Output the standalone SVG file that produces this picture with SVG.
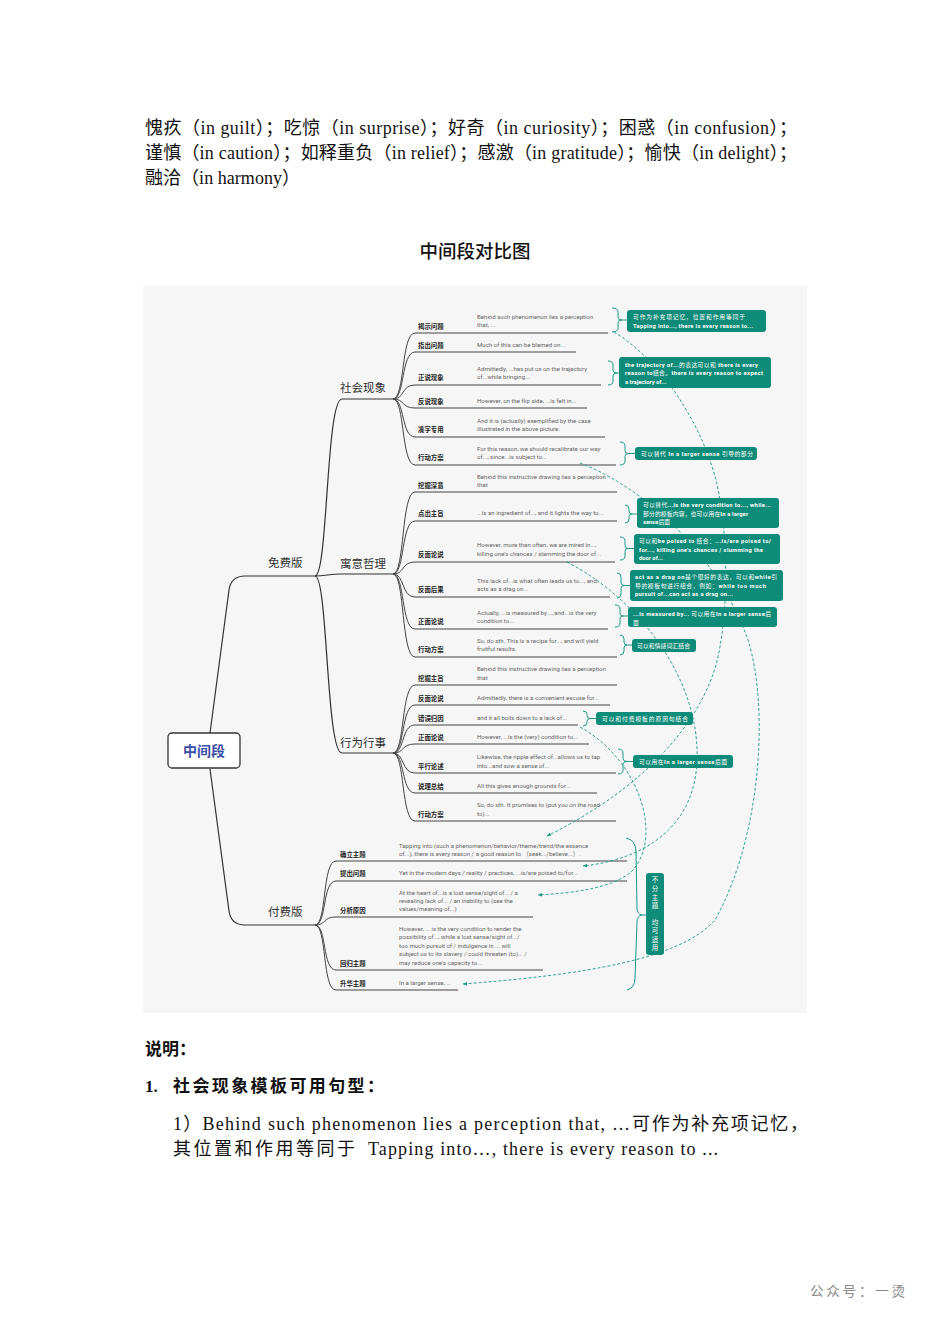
<svg xmlns="http://www.w3.org/2000/svg" width="950" height="1344" viewBox="0 0 950 1344">
<style>
.body{font-family:"Liberation Serif","Noto Sans CJK SC",serif;font-size:18px;fill:#111}
.bold{font-family:"Liberation Serif","Noto Sans CJK SC",serif;font-size:17px;font-weight:bold;fill:#111}
.title{font-family:"Noto Sans CJK SC",sans-serif;font-size:18.5px;font-weight:500;fill:#111}
.lab{font-family:"Noto Sans CJK SC",sans-serif;font-size:6.4px;font-weight:bold;fill:#222}
.txt{font-family:Roboto,"Noto Sans CJK SC",sans-serif;font-size:6.1px;fill:#666}
.br{font-family:"Noto Sans CJK SC",sans-serif;font-size:11.5px;fill:#333}
.bx{font-family:Roboto,"Noto Sans CJK SC",sans-serif;font-size:5.8px;font-weight:bold;fill:#fff}
.n{font-weight:normal}
.vt{font-family:"Noto Sans CJK SC",sans-serif;font-size:6.5px;fill:#fff;text-anchor:middle}
.tree{fill:none;stroke:#333;stroke-width:1.2}
.sub{fill:none;stroke:#444;stroke-width:1}
.box{fill:#0f8b79}
.brace{fill:none;stroke:#1a9a87;stroke-width:1}
.dash{fill:none;stroke:#1a9a87;stroke-width:0.9;stroke-dasharray:3 2}
</style>
<defs>
<marker id="ah" viewBox="0 0 10 10" refX="9" refY="5" markerWidth="5" markerHeight="5" orient="auto"><path d="M0,1 L10,5 L0,9 z" fill="#1a9a87"/></marker>
</defs>
<rect width="950" height="1344" fill="#fff"/>

<g id="intro">
<text class="body" x="145" y="134" textLength="652" lengthAdjust="spacing">愧疚（in guilt）；吃惊（in surprise）；好奇（in curiosity）；困惑（in confusion）；</text>
<text class="body" x="145" y="159" textLength="652" lengthAdjust="spacing">谨慎（in caution）；如释重负（in relief）；感激（in gratitude）；愉快（in delight）；</text>
<text class="body" x="145" y="184" textLength="155" lengthAdjust="spacing">融洽（in harmony）</text>
<text class="title" x="475" y="258" text-anchor="middle">中间段对比图</text>
</g>

<rect x="143" y="286" width="664" height="727" fill="#f6f6f6"/>

<g id="connectors">
<path class="tree" d="M210,733 L229,590 Q231,576 245,576 L315,576"/>
<path class="tree" d="M210,769 L229,911 Q231,925 245,925 L315,925"/>
<path class="tree" d="M315,576 C328,576 326,399 342,399 L393,399"/>
<path class="tree" d="M315,576 C325,576 330,574 340,574 L393,574"/>
<path class="tree" d="M315,576 C328,576 326,753 342,753 L393,753"/>
<g class="sub">
<path d="M393,399 C405,399 401,333 415,333 L608,333"/>
<path d="M393,399 C405,399 401,352 415,352 L576,352"/>
<path d="M393,399 C405,399 401,385 415,385 L601,385"/>
<path d="M393,399 C405,399 401,408 415,408 L587,408"/>
<path d="M393,399 C405,399 401,437 415,437 L605,437"/>
<path d="M393,399 C405,399 401,465 415,465 L616,465"/>
<path d="M393,574 C405,574 401,492 415,492 L617,492"/>
<path d="M393,574 C405,574 401,521 415,521 L617,521"/>
<path d="M393,574 C405,574 401,562 415,562 L615,562"/>
<path d="M393,574 C405,574 401,597 415,597 L610,597"/>
<path d="M393,574 C405,574 401,629 415,629 L608,629"/>
<path d="M393,574 C405,574 401,657 415,657 L617,657"/>
<path d="M393,753 C405,753 401,685 415,685 L617,685"/>
<path d="M393,753 C405,753 401,705 415,705 L610,705"/>
<path d="M393,753 C405,753 401,725 415,725 L578,725"/>
<path d="M393,753 C405,753 401,744 415,744 L589,744"/>
<path d="M393,753 C405,753 401,773 415,773 L616,773"/>
<path d="M393,753 C405,753 401,793 415,793 L597,793"/>
<path d="M393,753 C405,753 401,821 415,821 L616,821"/>
<path d="M315,925 C327,925 322,861 336,861 L627,861"/>
<path d="M315,925 C327,925 322,881 336,881 L627,881"/>
<path d="M315,925 C327,925 322,917 336,917 L533,917"/>
<path d="M315,925 C327,925 322,970 336,970 L543,970"/>
<path d="M315,925 C327,925 322,990 336,990 L458,990"/>
</g>
<g class="brace">
<path d="M612,308 Q618,308 618,312 L618,317 Q618,320 622,320 Q618,320 618,323 L618,328 Q618,332 612,332 M622,320 L627,320"/>
<path d="M608,361 Q613,361 613,365 L613,370 Q613,373 617,373 Q613,373 613,376 L613,381 Q613,385 608,385 M617,373 L619,373"/>
<path d="M620,442 Q625,442 625,446 L625,450.5 Q625,453.5 628,453.5 Q625,453.5 625,456.5 L625,461 Q625,465 620,465 M628,453.5 L635,453.5"/>
<path d="M625,505 Q629,505 629,509 L629,511 Q629,514 632,514 Q629,514 629,517 L629,519 Q629,523 625,523 M632,514 L637,514"/>
<path d="M620,537 Q625,537 625,541 L625,545.5 Q625,548.5 628,548.5 Q625,548.5 625,551.5 L625,556 Q625,560 620,560 M628,548.5 L634,548.5"/>
<path d="M617,573 Q621,573 621,577 L621,582.5 Q621,585.5 624,585.5 Q621,585.5 621,588.5 L621,594 Q621,598 617,598 M624,585.5 L630,585.5"/>
<path d="M615,605 Q620,605 620,609 L620,613 Q620,616 623,616 Q620,616 620,619 L620,623 Q620,627 615,627 M623,616 L628,616"/>
<path d="M620,635 Q624,635 624,639 L624,642 Q624,645 627,645 Q624,645 624,648 L624,651 Q624,655 620,655 M627,645 L632,645"/>
<path d="M583,711 Q587,711 587,714 L587,715.5 Q587,718.5 590,718.5 Q587,718.5 587,721.5 L587,723 Q587,726 583,726 M590,718.5 L596,718.5"/>
<path d="M618,749 Q623,749 623,753 L623,758.5 Q623,761.5 627,761.5 Q623,761.5 623,764.5 L623,770 Q623,774 618,774 M627,761.5 L633,761.5"/>
<path d="M626,838 Q636,840 636,852 L637,908 Q637,914 642,915 Q637,916 637,922 L635,978 Q635,988 627,990 M642,915 L646,915"/>
</g>
<g class="dash">
<path d="M614,332 C660,360 700,420 716,480 C730,540 728,620 716,665 C700,720 650,785 547,836" marker-end="url(#ah)"/>
<path d="M580,463 C650,490 720,560 748,640 C770,710 760,840 715,920 C680,960 580,975 463,984" marker-end="url(#ah)"/>
<path d="M567,562 C640,600 700,680 697,760 C695,830 640,860 583,866" marker-end="url(#ah)"/>
<path d="M580,727 C640,760 665,840 630,873 C610,888 575,893 538,895" marker-end="url(#ah)"/>
</g>
</g>

<g id="root">
<rect x="168" y="733" width="72" height="35" rx="4" fill="#fff" stroke="#333" stroke-width="1.3"/>
<text x="204" y="756" text-anchor="middle" font-family="'Noto Sans CJK SC',sans-serif" font-size="14" font-weight="bold" fill="#3d4fa8">中间段</text>
</g>
<g id="free"><text class="br" x="268" y="567">免费版</text></g>
<g id="paid"><text class="br" x="268" y="916">付费版</text></g>
<g id="social"><text class="br" x="340" y="392">社会现象</text></g>
<g id="moral"><text class="br" x="340" y="568">寓意哲理</text></g>
<g id="action"><text class="br" x="340" y="747">行为行事</text></g>

<g id="s1"><text class="lab" x="418" y="328.5">揭示问题</text><text class="txt" x="477" y="319">Behind such phenomenon lies a perception</text><text class="txt" x="477" y="327">that, ...</text></g>
<g id="s2"><text class="lab" x="418" y="347.5">指出问题</text><text class="txt" x="477" y="347">Much of this can be blamed on...</text></g>
<g id="s3"><text class="lab" x="418" y="379.5">正说现象</text><text class="txt" x="477" y="371">Admittedly, ...has put us on the trajectory</text><text class="txt" x="477" y="379">of...while bringing...</text></g>
<g id="s4"><text class="lab" x="418" y="403.5">反说现象</text><text class="txt" x="477" y="403">However, on the flip side, ...is felt in...</text></g>
<g id="s5"><text class="lab" x="418" y="431.5">凑字专用</text><text class="txt" x="477" y="423">And it is (actually) exemplified by the case</text><text class="txt" x="477" y="431">illustrated in the above picture.</text></g>
<g id="s6"><text class="lab" x="418" y="459.5">行动方案</text><text class="txt" x="477" y="451">For this reason, we should recalibrate our way</text><text class="txt" x="477" y="459">of..., since...is subject to...</text></g>

<g id="m1"><text class="lab" x="418" y="487.5">挖掘深意</text><text class="txt" x="477" y="479">Behind this instructive drawing lies a perception</text><text class="txt" x="477" y="487">that</text></g>
<g id="m2"><text class="lab" x="418" y="515.5">点出主旨</text><text class="txt" x="477" y="515">...is an ingredient of..., and it lights the way to...</text></g>
<g id="m3"><text class="lab" x="418" y="556.5">反面论说</text><text class="txt" x="477" y="547">However, more than often, we are mired in...,</text><text class="txt" x="477" y="556">killing one's chances / slamming the door of...</text></g>
<g id="m4"><text class="lab" x="418" y="591.5">反面后果</text><text class="txt" x="477" y="583">This lack of...is what often leads us to..., and</text><text class="txt" x="477" y="591">acts as a drag on...</text></g>
<g id="m5"><text class="lab" x="418" y="623.5">正面论说</text><text class="txt" x="477" y="615">Actually, ...is measured by..., and...is the very</text><text class="txt" x="477" y="623">condition to...</text></g>
<g id="m6"><text class="lab" x="418" y="651.5">行动方案</text><text class="txt" x="477" y="643">So, do sth. This is a recipe for..., and will yield</text><text class="txt" x="477" y="651">fruitful results.</text></g>

<g id="a1"><text class="lab" x="418" y="680.5">挖掘主旨</text><text class="txt" x="477" y="671">Behind this instructive drawing lies a perception</text><text class="txt" x="477" y="680">that</text></g>
<g id="a2"><text class="lab" x="418" y="700.5">反面论说</text><text class="txt" x="477" y="700">Admittedly, there is a convenient excuse for...</text></g>
<g id="a3"><text class="lab" x="418" y="720.5">错误归因</text><text class="txt" x="477" y="720">and it all boils down to a lack of...</text></g>
<g id="a4"><text class="lab" x="418" y="739.5">正面论说</text><text class="txt" x="477" y="739">However, ...is the (very) condition to...</text></g>
<g id="a5"><text class="lab" x="418" y="768.5">平行论述</text><text class="txt" x="477" y="759">Likewise, the ripple effect of...allows us to tap</text><text class="txt" x="477" y="768">into...and sow a sense of...</text></g>
<g id="a6"><text class="lab" x="418" y="788.5">说理总结</text><text class="txt" x="477" y="788">All this gives enough grounds for...</text></g>
<g id="a7"><text class="lab" x="418" y="816.5">行动方案</text><text class="txt" x="477" y="807">So, do sth. It promises to (put you on the road</text><text class="txt" x="477" y="816">to)...</text></g>

<g id="p1"><text class="lab" x="340" y="856.5">确立主题</text><text class="txt" x="399" y="848">Tapping into (such a phenomenon/behavior/theme/trend/the essence</text><text class="txt" x="399" y="856">of...), there is every reason / a good reason to （seek.../believe...）.</text></g>
<g id="p2"><text class="lab" x="340" y="875.5">提出问题</text><text class="txt" x="399" y="875">Yet in the modern days / reality / practices, ...is/are poised to/for...</text></g>
<g id="p3"><text class="lab" x="340" y="912.5">分析原因</text><text class="txt" x="399" y="895">At the heart of...is a lost sense/sight of... / a</text><text class="txt" x="399" y="903">revealing lack of... / an inability to (see the</text><text class="txt" x="399" y="911">values/meaning of...)</text></g>
<g id="p4"><text class="lab" x="340" y="965.5">回归主题</text><text class="txt" x="399" y="931">However, ... is the very condition to render the</text><text class="txt" x="399" y="939">possibility of..., while a lost sense/sight of.../</text><text class="txt" x="399" y="948">too much pursuit of / indulgence in ... will</text><text class="txt" x="399" y="956">subject us to its slavery / could threaten (to)... /</text><text class="txt" x="399" y="965">may reduce one's capacity to...</text></g>
<g id="p5"><text class="lab" x="340" y="985.5">升华主题</text><text class="txt" x="399" y="985">In a larger sense, ...</text></g>

<g id="note1"><rect class="box" x="627" y="310" width="139" height="22" rx="3"/><text class="bx" x="633" y="319" textLength="112"><tspan class="n">可作为补充项记忆，位置和作用等同于</tspan></text><text class="bx" x="633" y="328" textLength="120">Tapping into..., there is every reason to...</text></g>
<g id="note2"><rect class="box" x="619" y="357" width="152" height="31" rx="3"/><text class="bx" x="625" y="367" textLength="133">the trajectory of...<tspan class="n">的表达可以和</tspan> there is every</text><text class="bx" x="625" y="375" textLength="138">reason to<tspan class="n">结合。</tspan>there is every reason to expect</text><text class="bx" x="625" y="384">a trajectory of...</text></g>
<g id="note3"><rect class="box" x="635" y="447" width="122" height="13" rx="3"/><text class="bx" x="641" y="456" textLength="112"><tspan class="n">可以替代</tspan> In a larger sense <tspan class="n">引导的部分</tspan></text></g>
<g id="note4"><rect class="box" x="637" y="498" width="142" height="30" rx="3"/><text class="bx" x="643" y="507" textLength="128"><tspan class="n">可以替代</tspan>...is the very condition to..., while...</text><text class="bx" x="643" y="516" textLength="105"><tspan class="n">部分的模板内容，也可以用在</tspan>In a larger</text><text class="bx" x="643" y="524">sense<tspan class="n">后面</tspan></text></g>
<g id="note5"><rect class="box" x="634" y="534" width="146" height="30" rx="3"/><text class="bx" x="639" y="543" textLength="132"><tspan class="n">可以和</tspan>be poised to <tspan class="n">结合：</tspan>...is/are poised to/</text><text class="bx" x="639" y="552" textLength="124">for..., killing one's chances / slumming the</text><text class="bx" x="639" y="560">door of...</text></g>
<g id="note6"><rect class="box" x="630" y="570" width="153" height="31" rx="3"/><text class="bx" x="635" y="579" textLength="142">act as a drag on<tspan class="n">是个很好的表达，可以和</tspan>while<tspan class="n">引</tspan></text><text class="bx" x="635" y="588" textLength="131"><tspan class="n">导的模板句进行组合，例如：</tspan>while too much</text><text class="bx" x="635" y="596" textLength="98">pursuit of...can act as a drag on...</text></g>
<g id="note7"><rect class="box" x="628" y="607" width="149" height="20" rx="3"/><text class="bx" x="633" y="616" textLength="138">...is measured by... <tspan class="n">可以用在</tspan>In a larger sense<tspan class="n">后</tspan></text><text class="bx" x="633" y="625"><tspan class="n">面</tspan></text></g>
<g id="note8"><rect class="box" x="632" y="639" width="64" height="13" rx="3"/><text class="bx" x="637" y="648" textLength="53"><tspan class="n">可以和情感词汇结合</tspan></text></g>
<g id="note9"><rect class="box" x="596" y="712" width="97" height="13" rx="3"/><text class="bx" x="602" y="721" textLength="86"><tspan class="n">可以和付费模板的原因句结合</tspan></text></g>
<g id="note10"><rect class="box" x="633" y="755" width="100" height="13" rx="3"/><text class="bx" x="639" y="764" textLength="88"><tspan class="n">可以用在</tspan>In a larger sense<tspan class="n">后面</tspan></text></g>
<g id="note11"><rect class="box" x="646" y="873" width="18" height="82" rx="3"/>
<text class="vt" x="655" y="882">不</text><text class="vt" x="655" y="891">分</text><text class="vt" x="655" y="900">主</text><text class="vt" x="655" y="908">题</text>
<text class="vt" x="655" y="925">均</text><text class="vt" x="655" y="933">可</text><text class="vt" x="655" y="942">适</text><text class="vt" x="655" y="950">用</text></g>

<g id="notes">
<text class="bold" x="145" y="1055"><tspan font-family="'Noto Sans CJK SC',sans-serif">说明：</tspan></text>
<text class="bold" x="145" y="1092">1.<tspan x="173" font-family="'Noto Sans CJK SC',sans-serif" letter-spacing="2.4">社会现象模板可用句型：</tspan></text>
<text class="body" x="173" y="1130" textLength="457" lengthAdjust="spacing">1）Behind such phenomenon lies a perception that, …</text>
<text class="body" x="632" y="1130" textLength="176" lengthAdjust="spacing">可作为补充项记忆，</text>
<text class="body" x="173" y="1155" textLength="182" lengthAdjust="spacing">其位置和作用等同于</text>
<text class="body" x="368" y="1155" textLength="350" lengthAdjust="spacing">Tapping into…, there is every reason to ...</text>
</g>
<text x="810" y="1296" font-family="'Noto Sans CJK SC',sans-serif" font-size="13.5" fill="#888" textLength="95" lengthAdjust="spacing">公众号：一烫</text>
</svg>
